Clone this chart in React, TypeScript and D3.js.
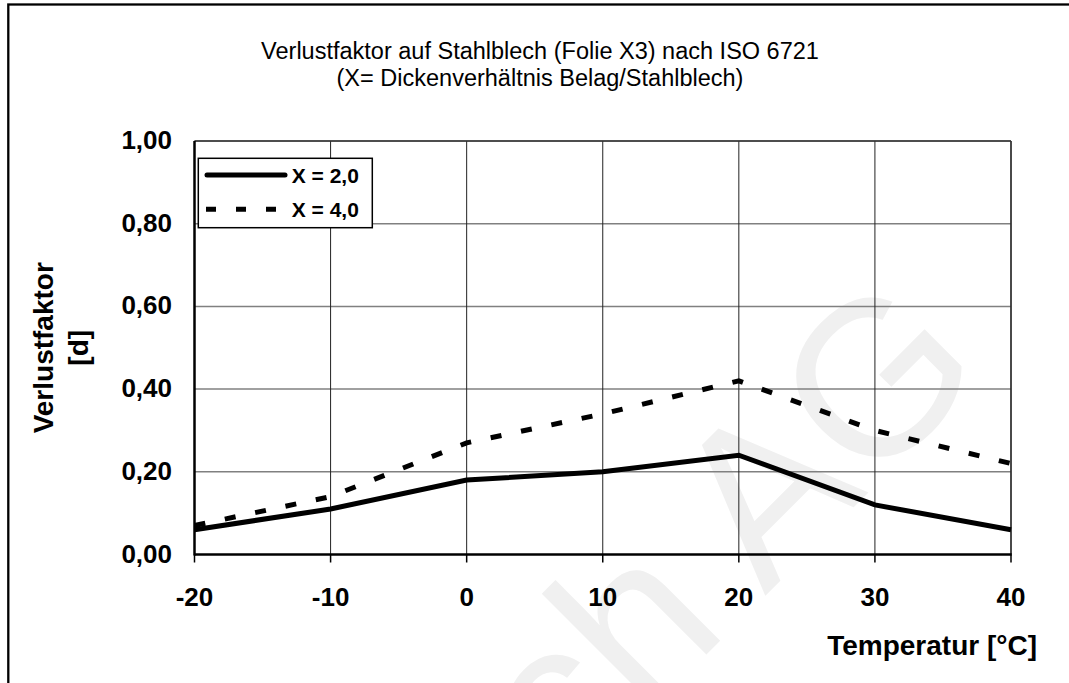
import React from "react";
import * as d3 from "d3";

const temps = [-20, -10, 0, 10, 20, 30, 40];
const seriesX2 = [0.06, 0.11, 0.18, 0.2, 0.24, 0.12, 0.06];
const seriesX4 = [0.07, 0.14, 0.27, 0.34, 0.42, 0.3, 0.22];
const yTicks = [0, 0.2, 0.4, 0.6, 0.8, 1.0];
const xTicks = [-20, -10, 0, 10, 20, 30, 40];
const legendLabels = ["X = 2,0", "X = 4,0"];
const titleLines = [
  "Verlustfaktor auf Stahlblech (Folie X3) nach ISO 6721",
  "(X= Dickenverhältnis Belag/Stahlblech)",
];
const yTitle = ["Verlustfaktor", "[d]"];
const xTitle = "Temperatur [°C]";
const watermark = "ch AG";

const W = 1069;
const H = 683;
const FONT = "'Liberation Sans', Arial, Helvetica, sans-serif";

export default function App() {
  const left = 194.5, right = 1011, top = 141, bottom = 554.5;
  const x = d3.scaleLinear().domain([-20, 40]).range([left, right]);
  const y = d3.scaleLinear().domain([0, 1]).range([bottom, top]);
  const fmt = (v: number) => d3.format(".2f")(v).replace(".", ",");
  const line = d3
    .line<[number, number]>()
    .x((d) => x(d[0]))
    .y((d) => y(d[1]));
  const d2 = line(temps.map((t, i) => [t, seriesX2[i]] as [number, number])) || "";
  const d4 = line(temps.map((t, i) => [t, seriesX4[i]] as [number, number])) || "";

  return (
    <svg
      width={W}
      height={H}
      style={{ position: "absolute", left: 0, top: 0, display: "block", background: "#fff" }}
      fontFamily={FONT}
    >
      <rect x={0} y={0} width={W} height={H} fill="#fff" />
      {/* watermark (faint, partly outside the page as in the reference) */}
      <g clipPath="url(#pageClip)">
        <text
          x={0}
          y={0}
          transform="translate(566,795) rotate(-45)"
          fontSize={220}
          fill="#f0f0f0"
          fontFamily={FONT}
        >
          {watermark}
        </text>
      </g>
      <defs>
        <clipPath id="pageClip">
          <rect x={0} y={0} width={W} height={H} />
        </clipPath>
      </defs>
      {/* outer frame */}
      <rect x={8.3} y={4.5} width={1200} height={900} fill="none" stroke="#000" strokeWidth={2.3} />
      {/* title */}
      {titleLines.map((t, i) => (
        <text key={i} x={540} y={58.5 + i * 27} textAnchor="middle" fontSize={23.5} fill="#000">
          {t}
        </text>
      ))}
      {/* horizontal gridlines */}
      {yTicks.filter((v) => v > 0).map((v) => (
        <line key={"h" + v} x1={left} x2={right} y1={y(v)} y2={y(v)} stroke="#808080" strokeWidth={1.5} />
      ))}
      {/* vertical gridlines */}
      {xTicks.filter((v) => v > -20).map((v) => (
        <line key={"v" + v} x1={x(v)} x2={x(v)} y1={top} y2={bottom} stroke="#222" strokeWidth={1} />
      ))}
      {/* plot border top/right */}
      <line x1={left} x2={right} y1={top} y2={top} stroke="#333" strokeWidth={1.5} />
      <line x1={right} x2={right} y1={top} y2={bottom} stroke="#333" strokeWidth={1.5} />
      {/* x ticks */}
      {xTicks.map((v) => (
        <line key={"t" + v} x1={x(v)} x2={x(v)} y1={bottom} y2={bottom + 8} stroke="#000" strokeWidth={1.5} />
      ))}
      {/* axes */}
      <line x1={left} x2={left} y1={top} y2={bottom + 1} stroke="#000" strokeWidth={2.5} />
      <line x1={left} x2={right + 0.75} y1={bottom} y2={bottom} stroke="#000" strokeWidth={2.5} />
      {/* series */}
      <path d={d2} fill="none" stroke="#000" strokeWidth={5} strokeLinejoin="miter" />
      <path d={d4} fill="none" stroke="#000" strokeWidth={5} strokeDasharray="11 20" />
      {/* y tick labels */}
      {yTicks.map((v) => (
        <text key={"yl" + v} x={172} y={y(v) + 8} textAnchor="end" fontSize={26} fontWeight="bold">
          {fmt(v)}
        </text>
      ))}
      {/* x tick labels */}
      {xTicks.map((v) => (
        <text key={"xl" + v} x={x(v)} y={606} textAnchor="middle" fontSize={26} fontWeight="bold">
          {String(v)}
        </text>
      ))}
      {/* axis titles */}
      <text x={1037} y={655} textAnchor="end" fontSize={28} fontWeight="bold">
        {xTitle}
      </text>
      <g transform={`translate(0,${(top + bottom) / 2}) rotate(-90)`}>
        <text x={0} y={53.3} textAnchor="middle" fontSize={28} fontWeight="bold">
          {yTitle[0]}
        </text>
        <text x={0} y={88.4} textAnchor="middle" fontSize={28} fontWeight="bold">
          {yTitle[1]}
        </text>
      </g>
      {/* legend */}
      <rect x={198.3} y={158.3} width={174} height={69.4} fill="#fff" stroke="#000" strokeWidth={1.5} />
      <line x1={207} x2={285} y1={175} y2={175} stroke="#000" strokeWidth={5} strokeLinecap="round" />
      <line x1={206} x2={287} y1={209.3} y2={209.3} stroke="#000" strokeWidth={5} strokeDasharray="10 20" />
      {legendLabels.map((t, i) => (
        <text key={t} x={291.7} y={183.3 + i * 33.4} fontSize={21} fontWeight="bold">
          {t}
        </text>
      ))}
    </svg>
  );
}
